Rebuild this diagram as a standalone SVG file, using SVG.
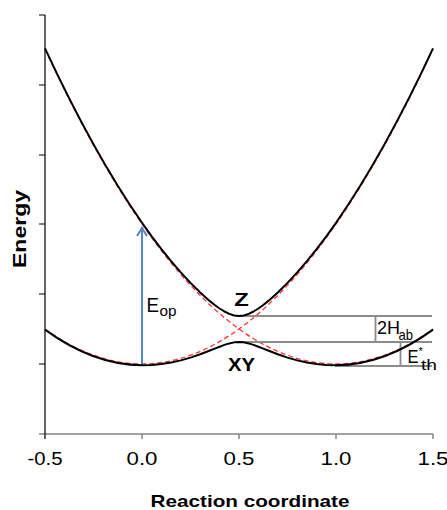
<svg xmlns="http://www.w3.org/2000/svg" width="447" height="510" viewBox="0 0 447 510">
<style>
.t{font-family:"Liberation Sans",Arial,sans-serif;fill:#000}
.b{font-weight:bold}
.tick{font-size:18.5px;text-anchor:middle}
.ax{stroke:#868686;stroke-width:1.5;fill:none}
.yax{stroke:#000;stroke-width:1.2;fill:none}
.dia{stroke:#ff3333;stroke-width:1.3;stroke-dasharray:5 3;fill:none}
.adia{stroke:#000;stroke-width:2;fill:none;stroke-linejoin:round}
.ref{stroke:#8c8c8c;stroke-width:1.8;fill:none}
.arr{stroke:#5587c4;stroke-width:2;fill:none}
</style>
<defs>
<marker id="ah" viewBox="0 0 12 12" refX="10" refY="6" markerWidth="12" markerHeight="12" markerUnits="userSpaceOnUse" orient="auto">
<path d="M2,1 L10,6 L2,11" fill="none" stroke="#5587c4" stroke-width="2"/>
</marker>
</defs>
<g id="axes">
<path class="ax" d="M39,434 H433 M142,434 V439 M239,434 V439 M336,434 V439 M433,434 V439"/>
<path class="yax" d="M45,15 V439 M39,15 H45 M39,85 H45 M39,155 H45 M39,224 H45 M39,294 H45 M39,364 H45"/>
<text class="t tick" x="45" y="465" textLength="35" lengthAdjust="spacingAndGlyphs">-0.5</text>
<text class="t tick" x="142" y="465" textLength="31" lengthAdjust="spacingAndGlyphs">0.0</text>
<text class="t tick" x="239" y="465" textLength="31" lengthAdjust="spacingAndGlyphs">0.5</text>
<text class="t tick" x="336" y="465" textLength="31" lengthAdjust="spacingAndGlyphs">1.0</text>
<text class="t tick" x="433" y="465" textLength="31" lengthAdjust="spacingAndGlyphs">1.5</text>
<text class="t b" x="250" y="507" font-size="17" text-anchor="middle" textLength="199" lengthAdjust="spacingAndGlyphs">Reaction coordinate</text>
<text class="t b" transform="translate(26,229) rotate(-90)" font-size="19" text-anchor="middle" textLength="78" lengthAdjust="spacingAndGlyphs">Energy</text>
</g>
<g id="diabatic">
<path class="dia" d="M45,329 Q239,469 433,49"/>
<path class="dia" d="M45,49 Q239,469 433,329"/>
</g>
<g id="connectors">
<path class="ref" d="M239,316 H432 M240,342 H432 M335,366 H432 M375.5,316 V342 M400.5,342 V366"/>
<path class="arr" d="M142,365 V228" marker-end="url(#ah)"/>
</g>
<g id="curve-Z">
<path class="adia" d="M45,48.4 Q93.5,153 142,222.8 L151.7,236.32 L161.4,249.11 L171.1,261.15 L180.8,272.43 L190.5,282.91 L200.2,292.53 L209.9,301.15 L214.75,305 L219.6,308.5 L224.45,311.5 L229.3,313.89 L234.15,315.45 L239,316 L243.85,315.45 L248.7,313.89 L253.55,311.5 L258.4,308.5 L263.25,305 L268.1,301.15 L277.8,292.53 L287.5,282.91 L297.2,272.43 L306.9,261.15 L316.6,249.11 L326.3,236.32 L336,222.8 Q384.5,153 433,48.4"/>
<text class="t b" x="241.5" y="306" font-size="18" text-anchor="middle" textLength="14.5" lengthAdjust="spacingAndGlyphs">Z</text>
</g>
<g id="curve-XY">
<path class="adia" d="M45,329.6 Q93.5,365 142,365.2 L151.7,364.98 L161.4,364.09 L171.1,362.55 L180.8,360.37 L190.5,357.59 L200.2,354.27 L209.9,350.55 L214.75,348.6 L219.6,346.7 L224.45,344.92 L229.3,343.41 L234.15,342.37 L239,342 L243.85,342.37 L248.7,343.41 L253.55,344.92 L258.4,346.7 L263.25,348.6 L268.1,350.55 L277.8,354.27 L287.5,357.59 L297.2,360.37 L306.9,362.55 L316.6,364.09 L326.3,364.98 L336,365.2 Q384.5,365 433,329.6"/>
<text class="t b" x="241.5" y="370.5" font-size="19" text-anchor="middle" textLength="27" lengthAdjust="spacingAndGlyphs">XY</text>
</g>
<g id="labels">
<text class="t" font-size="20"><tspan x="146.5" y="311.5" textLength="12.5" lengthAdjust="spacingAndGlyphs">E</tspan><tspan x="159.5" y="316" font-size="15" textLength="17" lengthAdjust="spacingAndGlyphs">op</tspan></text>
<text class="t" font-size="18.5"><tspan x="377" y="334" textLength="23" lengthAdjust="spacingAndGlyphs">2H</tspan><tspan x="398.5" y="339.5" font-size="14.5" textLength="14.5" lengthAdjust="spacingAndGlyphs">ab</tspan></text>
<text class="t" font-size="18.5"><tspan x="407.5" y="363" textLength="11" lengthAdjust="spacingAndGlyphs">E</tspan><tspan x="418.5" y="355" font-size="11">*</tspan><tspan x="421" y="370" font-size="14" textLength="16" lengthAdjust="spacingAndGlyphs">th</tspan></text>
</g>
</svg>
